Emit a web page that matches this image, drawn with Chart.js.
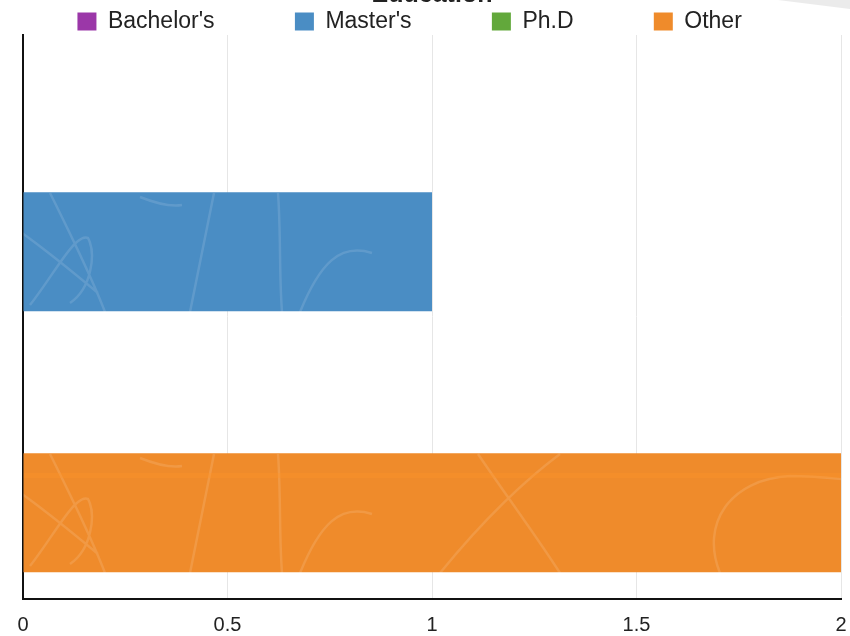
<!DOCTYPE html>
<html>
<head>
<meta charset="utf-8">
<title>Education</title>
<script src="https://cdn.jsdelivr.net/npm/chart.js@4.4.1/dist/chart.umd.min.js"></script>
<style>
  html, body { margin: 0; padding: 0; background: #fff; overflow: hidden; }
  #wrap { position: relative; width: 850px; height: 636px; overflow: hidden; }
  #chart { position: absolute; left: 0; top: -19px; }
  #corner {
    position: absolute; top: 0; right: 0; width: 72px; height: 9px;
    background: #ebebeb; clip-path: polygon(0 0, 100% 0, 100% 100%);
  }
</style>
</head>
<body>
<div id="wrap">
  <canvas id="chart" width="850" height="655"></canvas>
  <div id="corner"></div>
</div>
<script>
// data
const categories = ['Education'];
const seriesNames = ["Bachelor's", "Master's", 'Ph.D', 'Other'];
const bachelorsValues = [0];
const mastersValues = [1];
const phdValues = [0];
const otherValues = [2];
const xTickLabels = ['0', '0.5', '1', '1.5', '2'];

const seriesColors = ['#9b37a8', '#4a8dc4', '#62a83b', '#ef8b2b'];
// trailing spaces only widen the legend items to the spacing of the original
const legendTrail = [11, 11, 11, 7];

Chart.defaults.font.family = '"Liberation Sans", Arial, Helvetica, sans-serif';

// faint scribble texture seen inside the bars
function texture(color, band) {
  const c = document.createElement('canvas');
  c.width = 850;
  c.height = 261;
  const g = c.getContext('2d');
  g.fillStyle = color;
  g.fillRect(0, 0, c.width, c.height);
  g.strokeStyle = 'rgba(255,255,255,0.12)';
  g.lineWidth = 2.5;
  const top = 212; // first bar top in canvas pixels
  [top, top - 261].forEach((oy) => {
    g.save();
    g.translate(0, oy);
    g.beginPath();
    g.moveTo(50, 0); g.bezierCurveTo(70, 40, 90, 80, 105, 119);
    g.moveTo(22, 40); g.bezierCurveTo(50, 60, 80, 85, 98, 100);
    g.moveTo(30, 112); g.bezierCurveTo(55, 80, 75, 40, 88, 45);
    g.bezierCurveTo(96, 60, 92, 95, 70, 110);
    g.moveTo(190, 119); g.bezierCurveTo(198, 80, 206, 40, 214, 0);
    g.moveTo(278, 0); g.bezierCurveTo(281, 40, 279, 80, 282, 119);
    g.moveTo(140, 4); g.bezierCurveTo(155, 10, 170, 14, 182, 12);
    g.moveTo(440, 119); g.bezierCurveTo(480, 70, 520, 30, 560, 0);
    g.moveTo(478, 0); g.bezierCurveTo(505, 40, 535, 80, 560, 119);
    g.moveTo(300, 119); g.bezierCurveTo(320, 70, 340, 50, 372, 60);
    g.moveTo(720, 119); g.bezierCurveTo(700, 70, 730, 25, 790, 22);
    g.bezierCurveTo(815, 22, 830, 24, 850, 26);
    g.stroke();
    if (band) {
      g.fillStyle = 'rgba(255,150,40,0.35)';
      g.fillRect(0, 19, 850, 5);
    }
    g.restore();
  });
  return g.createPattern(c, 'repeat');
}

const seriesValues = [bachelorsValues, mastersValues, phdValues, otherValues];

const legendTrim = {
  id: 'legendTrim',
  beforeInit(chart) {
    const fit = chart.legend.fit;
    chart.legend.fit = function () {
      fit.call(this);
      this.height -= 8;
    };
  }
};

new Chart(document.getElementById('chart'), {
  type: 'bar',
  data: {
    labels: categories,
    datasets: seriesNames.map((name, i) => ({
      label: name,
      data: seriesValues[i],
      backgroundColor: texture(seriesColors[i], i === 3),
      borderWidth: 0,
    })),
  },
  plugins: [legendTrim],
  options: {
    responsive: false,
    animation: false,
    indexAxis: 'y',
    layout: {
      padding: { left: 23, right: 9, top: 0, bottom: 0 },
    },
    datasets: {
      bar: {
        categoryPercentage: 0.9255,
        barPercentage: 0.912,
      },
    },
    plugins: {
      title: {
        display: true,
        text: 'Education',
        color: '#222',
        font: { size: 25, weight: 'bold', lineHeight: 1 },
        padding: { top: 2, bottom: -8 },
      },
      legend: {
        position: 'top',
        align: 'center',
        labels: {
          boxWidth: 19,
          boxHeight: 18,
          padding: 10,
          color: '#222',
          font: { size: 23 },
          generateLabels: (chart) =>
            chart.data.datasets.map((ds, i) => ({
              text: ds.label + ' '.repeat(legendTrail[i]),
              fillStyle: seriesColors[i],
              strokeStyle: seriesColors[i],
              lineWidth: 0,
              hidden: false,
              datasetIndex: i,
              fontColor: '#222',
            })),
        },
      },
      tooltip: { enabled: false },
    },
    scales: {
      x: {
        type: 'linear',
        min: 0,
        max: 2,
        ticks: {
          stepSize: 0.5,
          color: '#222',
          font: { size: 20, lineHeight: 2.4 },
          padding: 2,
          maxRotation: 0,
          callback: (value, index) => xTickLabels[index],
        },
        grid: {
          color: '#e6e6e6',
          drawTicks: false,
        },
        border: { color: '#111', width: 2 },
        afterFit: (scale) => {
          scale.height = 37;
        },
      },
      y: {
        ticks: { display: false },
        grid: { display: false, drawTicks: false },
        border: { color: '#111', width: 2 },
        afterFit: (scale) => {
          scale.width = 0;
        },
      },
    },
  },
});
</script>
</body>
</html>
